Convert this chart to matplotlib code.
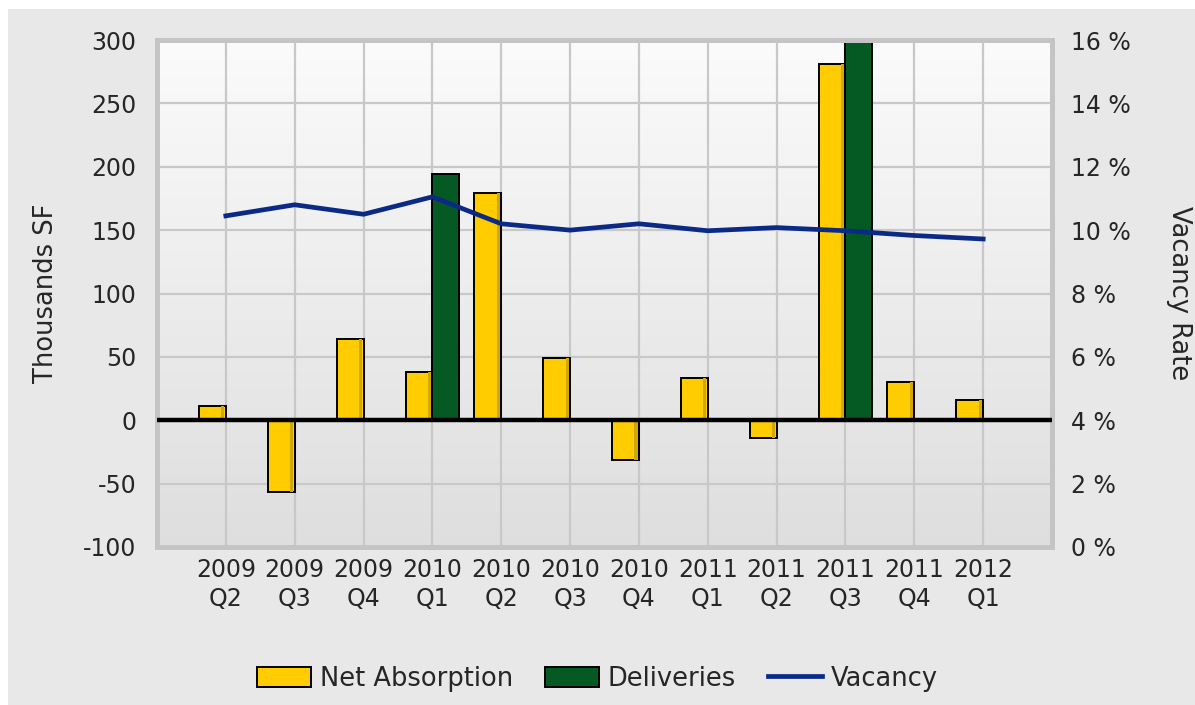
# Import Libraries
import numpy as np
import matplotlib.pyplot as plt
from matplotlib.colors import LinearSegmentedColormap
from matplotlib.patches import Rectangle, Patch
from matplotlib.lines import Line2D

# Data
quarters = ['2009\nQ2', '2009\nQ3', '2009\nQ4', '2010\nQ1', '2010\nQ2', '2010\nQ3',
            '2010\nQ4', '2011\nQ1', '2011\nQ2', '2011\nQ3', '2011\nQ4', '2012\nQ1']
net_absorption = [11, -57, 64, 38, 179, 49, -31, 33, -14, 281, 30, 16]
deliveries = [0, 0, 0, 194, 0, 0, 0, 0, 0, 300, 0, 0]
vacancy = [10.45, 10.8, 10.5, 11.05, 10.2, 10.0, 10.2, 9.98, 10.08, 9.98, 9.83, 9.72]

yellow = '#ffcc00'
green = '#055a24'
navy = '#0a2a86'
txt = '#262626'

plt.rcParams['font.family'] = 'DejaVu Sans'
plt.rcParams['axes.unicode_minus'] = False

fig = plt.figure(figsize=(11.95, 7.05), dpi=100)
fig.patch.set_facecolor('white')
# gray panel behind everything (white strip top and left)
fig.patches.append(Rectangle((8 / 1195, 0), 1, 1 - 9 / 705, transform=fig.transFigure,
                             facecolor='#e8e8e8', edgecolor='none', zorder=-10))

ax = fig.add_axes([157 / 1195, 158 / 705, 895 / 1195, 507 / 705])
x = np.arange(len(quarters))

# gradient plot background, light at top
cmap = LinearSegmentedColormap.from_list('bg', ['#fbfbfb', '#dedede'])
grad = np.linspace(0, 1, 256).reshape(-1, 1)
ax.imshow(grad, extent=[-1, 12, -100, 300], origin='upper', aspect='auto', cmap=cmap, zorder=0)

ax.set_xlim(-1, 12)
ax.set_ylim(-100, 300)
ax.set_yticks(np.arange(-100, 301, 50))
ax.set_xticks(x)
ax.set_xticklabels(quarters, linespacing=1.25)
ax.grid(True, color='#c8c8c8', lw=1.6, zorder=1)
ax.set_axisbelow(True)

w = 0.39
ax.bar(x, net_absorption, width=-w, align='edge', color=yellow, edgecolor='black',
       lw=1.4, zorder=2)
ax.bar(x - 0.065, net_absorption, width=0.045, align='edge', color='#d2a800', lw=0, zorder=2.1)
ax.bar(x, deliveries, width=w, align='edge', color=green, edgecolor='black',
       lw=1.4, zorder=2)
ax.axhline(0, color='black', lw=3.2, zorder=3)

for s in ax.spines.values():
    s.set_color('#c4c4c4')
    s.set_linewidth(3.6)

ax.tick_params(axis='y', length=0, pad=15, labelsize=17, labelcolor=txt)
ax.tick_params(axis='x', length=0, pad=8, labelsize=17, labelcolor=txt)
ax.set_ylabel('Thousands SF', fontsize=18.5, color=txt)
ax.yaxis.set_label_coords(-0.11, 0.5)

# vacancy on secondary axis
ax2 = ax.twinx()
ax2.plot(x, vacancy, color=navy, lw=3.4, zorder=5)
ax2.set_ylim(0, 16)
ax2.set_yticks(np.arange(0, 17, 2))
ax2.set_yticklabels(['%d %%' % v for v in range(0, 17, 2)])
ax2.tick_params(axis='y', length=0, pad=14, labelsize=17, labelcolor=txt)
for s in ax2.spines.values():
    s.set_visible(False)
ax2.set_ylabel('Vacancy Rate', fontsize=18.5, color=txt, rotation=270)
ax2.yaxis.set_label_coords(1.156, 0.5)

# legend
handles = [Patch(facecolor=yellow, edgecolor='black', lw=1.4),
           Patch(facecolor=green, edgecolor='black', lw=1.4),
           Line2D([0], [0], color=navy, lw=3.4)]
leg = fig.legend(handles, ['Net Absorption', 'Deliveries', 'Vacancy'], loc='center',
                 bbox_to_anchor=(0.5, 1 - 679 / 705), ncol=3, frameon=False,
                 fontsize=18.5, handlelength=2.1, handleheight=0.85, handletextpad=0.35,
                 columnspacing=1.25)
for t in leg.get_texts():
    t.set_color(txt)

fig.savefig('out.png', dpi=100, facecolor=fig.get_facecolor())
